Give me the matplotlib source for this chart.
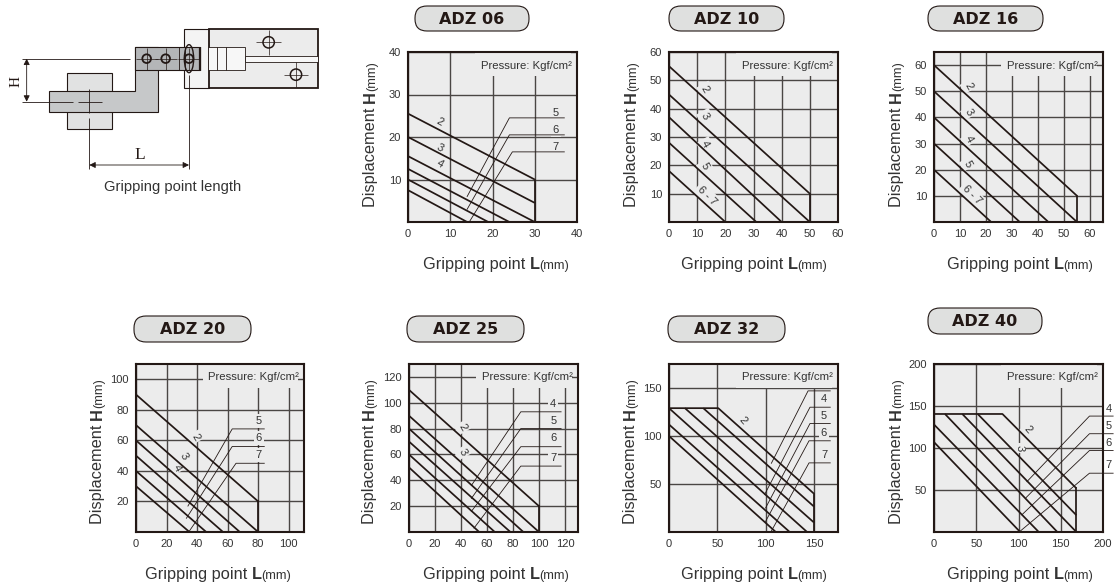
# Gripping point charts ADZ 06 .. ADZ 40

import matplotlib
matplotlib.use('Agg')
import matplotlib.pyplot as plt
from matplotlib.patches import Circle, Ellipse, FancyBboxPatch, Polygon, Rectangle

plt.rcParams['font.family'] = ['Liberation Sans', 'DejaVu Sans']

INK = '#231815'
GRID = '#4a4644'
PANEL_BG = '#ececec'
PILL_BG = '#dfe0df'
TEXT = '#333333'

# (L, H) ends of the curves, a vertical limit and the leader lines
adz06_curves = [[(0, 25.5), (30, 10)], [(0, 20), (30, 4.5)], [(0, 15.5), (30, 0)],
                [(0, 12.5), (24, 0)], [(0, 10), (19, 0)], [(0, 7.5), (14, 0)]]
adz06_limit = [(30, 10), (30, 0)]
adz06_leaders = [[(14, 6), (24, 24.5), (37, 24.5)], [(14, 3), (24, 20.5), (37, 20.5)],
                 [(14.5, 0), (24.7, 16.5), (37, 16.5)]]
adz06_labels = [('2', 7.5, 23.5, -30), ('3', 7.5, 17.5, -30), ('4', 7.5, 13.6, -30),
                ('5', 35, 25.7, 0), ('6', 35, 21.6, 0), ('7', 35, 17.7, 0)]

adz10_curves = [[(0, 55), (50, 10)], [(0, 45), (50, 0)], [(0, 37), (40, 0)],
                [(0, 28), (31, 0)], [(0, 18), (20, 0)]]
adz10_limit = [(50, 10), (50, 0)]
adz10_leaders = []
adz10_labels = [('2', 12.7, 47, -60), ('3', 12.7, 37.5, -60), ('4', 12.7, 27.5, -60),
                ('5', 12.6, 19.7, -60), ('6 - 7', 13.5, 9.3, -45)]

adz16_curves = [[(0, 60), (55, 10)], [(0, 50), (55, 0)], [(0, 40), (44, 0)],
                [(0, 30), (33, 0)], [(0, 20), (22, 0)]]
adz16_limit = [(55, 10), (55, 0)]
adz16_leaders = []
adz16_labels = [('2', 13.2, 52, -60), ('3', 13.4, 42, -60), ('4', 13.3, 31.5, -60),
                ('5', 12.8, 22.3, -60), ('6 - 7', 14.5, 10.4, -45)]

adz20_curves = [[(0, 90), (80, 20)], [(0, 70), (80, 0)], [(0, 60), (68, 0)],
                [(0, 50), (57, 0)], [(0, 40), (46, 0)], [(0, 30), (35, 0)]]
adz20_limit = [(80, 20), (80, 0)]
adz20_leaders = [[(34, 17), (63, 67.5), (84, 67.5)], [(33, 9), (63, 56), (84, 56)],
                 [(34.5, 0), (65.5, 45), (84, 45)]]
adz20_labels = [('2', 38.8, 62, -60), ('3', 31, 49.5, -60), ('4', 26.5, 42, -60),
                ('5', 80.5, 72.7, 0), ('6', 80.5, 61.4, 0), ('7', 80.5, 50.5, 0)]

adz25_curves = [[(0, 110), (100, 20)], [(0, 90), (100, 0)], [(0, 80), (88, 0)],
                [(0, 70), (78, 0)], [(0, 60), (66, 0)], [(0, 50), (54, 0)]]
adz25_limit = [(100, 20), (100, 0)]
adz25_leaders = [[(48, 36), (86, 93), (117, 93)], [(48, 26), (86, 80), (117, 80)],
                 [(48, 16), (86, 66), (117, 66)], [(50, 3), (86, 51), (117, 51)]]
adz25_labels = [('2', 41, 81, -60), ('3', 41, 61.5, -60), ('4', 111, 99, 0),
                ('5', 111, 86, 0), ('6', 111, 72.5, 0), ('7', 111, 57, 0)]

adz32_curves = [[(0, 129), (51, 129), (150, 40)], [(35.5, 129), (150, 26.6)],
                [(16.5, 129), (150, 10)], [(0, 129), (143, 0)],
                [(0, 112), (125, 0)], [(0, 100), (110.6, 0)]]
adz32_limit = [(150, 40), (150, 0)]
adz32_leaders = [[(106, 71.6), (144, 147), (167, 147)], [(99, 39), (146, 130), (167, 130)],
                 [(100, 25), (146, 113), (167, 113)], [(100, 11), (145, 95), (167, 95)],
                 [(106, 1), (145, 72), (167, 72)]]
adz32_labels = [('2', 76, 116, -50), ('4', 160.5, 138.5, 0), ('5', 160.5, 121, 0),
                ('6', 160.5, 103, 0), ('7', 160.5, 80, 0)]

adz40_curves = [[(0, 140.5), (81, 140.5), (168.5, 52)], [(51.7, 140.5), (168.5, 20)],
                [(33.5, 140.5), (168.5, 0)], [(13, 140.5), (146, 0)],
                [(0, 128), (124, 0)], [(0, 107), (102, 0)]]
adz40_limit = [(168.5, 52), (168.5, 0)]
adz40_leaders = [[(110, 60), (184, 138), (212, 138)], [(109, 41), (184, 117), (212, 117)],
                 [(104, 20.5), (184, 97), (212, 97)], [(102, 1), (184, 70), (212, 70)]]
adz40_labels = [('2', 111, 122, -50), ('3', 101, 100, -90), ('4', 206.7, 147, 0),
                ('5', 206.7, 126, 0), ('6', 206.7, 106, 0), ('7', 206.7, 80, 0)]

adz06_ticks = [0, 10, 20, 30, 40]
adz10_ticks = [0, 10, 20, 30, 40, 50, 60]
adz16_ticks = [0, 10, 20, 30, 40, 50, 60]
adz20_ticks = [0, 20, 40, 60, 80, 100]
adz25_ticks = [0, 20, 40, 60, 80, 100, 120]
adz32_ticks = [0, 50, 100, 150]
adz40_ticks = [0, 50, 100, 150, 200]

# name, axis limit, ticks, curves, limit, leaders, labels
PANELS = [
    ('ADZ 06', 40, adz06_ticks, adz06_curves, adz06_limit, adz06_leaders, adz06_labels),
    ('ADZ 10', 60, adz10_ticks, adz10_curves, adz10_limit, adz10_leaders, adz10_labels),
    ('ADZ 16', 65, adz16_ticks, adz16_curves, adz16_limit, adz16_leaders, adz16_labels),
    ('ADZ 20', 110, adz20_ticks, adz20_curves, adz20_limit, adz20_leaders, adz20_labels),
    ('ADZ 25', 130, adz25_ticks, adz25_curves, adz25_limit, adz25_leaders, adz25_labels),
    ('ADZ 32', 175, adz32_ticks, adz32_curves, adz32_limit, adz32_leaders, adz32_labels),
    ('ADZ 40', 200, adz40_ticks, adz40_curves, adz40_limit, adz40_leaders, adz40_labels),
]

# pixel layout: axes box, pill box, x label centre, y label x and centre
LAYOUT = [
    ((408, 52, 577, 222), (415, 6, 529, 31), (496, 264), (370, 134)),
    ((669, 52, 838, 222), (669, 6, 784, 31), (754, 264), (631, 134)),
    ((934, 52, 1103, 222), (928, 6, 1043, 31), (1020, 264), (896, 134)),
    ((136, 364, 304, 532), (134, 316, 251, 342), (218, 574), (97, 451)),
    ((409, 364, 578, 532), (407, 316, 524, 342), (496, 574), (369, 451)),
    ((669, 364, 838, 532), (668, 316, 785, 342), (754, 574), (630, 451)),
    ((934, 364, 1103, 532), (928, 308, 1042, 334), (1020, 574), (896, 451)),
]

W, H = 1114, 586
fig = plt.figure(figsize=(W / 100, H / 100), dpi=100)
renderer = fig.canvas.get_renderer()

# overlay in pixels for pills and the sketch
over = fig.add_axes([0, 0, 1, 1], zorder=0)
over.set_xlim(0, W)
over.set_ylim(H, 0)
over.axis('off')


def text_width(s, **kw):
    t = fig.text(0, 0, s, **kw)
    w = t.get_window_extent(renderer).width
    t.remove()
    return w


def mixed_label(x, y, before, bold, vertical):
    # label with a bold letter and a smaller (mm)
    parts = [(before, 11.8, 'normal'), (bold, 11.8, 'bold'), ('(mm)', 9.2, 'normal')]
    widths = [text_width(s, fontsize=fs, fontweight=fw) for s, fs, fw in parts]
    pos = -sum(widths) / 2
    for (s, fs, fw), w in zip(parts, widths):
        if vertical:
            px, py, rot = x, y - pos, 90
        else:
            px, py, rot = x + pos, y, 0
        fig.text(px / W, 1 - py / H, s, fontsize=fs, fontweight=fw, color=TEXT,
                 rotation=rot, rotation_mode='anchor', ha='left', va='baseline')
        pos += w


for panel, layout in zip(PANELS, LAYOUT):
    name, top, ticks, curves, limit, leaders, labels = panel
    (x0, y0, x1, y1), (px0, py0, px1, py1), xlab, ylab = layout

    ax = fig.add_axes([x0 / W, 1 - y1 / H, (x1 - x0) / W, (y1 - y0) / H], zorder=1)
    ax.set_facecolor(PANEL_BG)
    ax.set_xlim(0, top)
    ax.set_ylim(0, top)
    ax.set_xticks(ticks)
    ax.set_yticks(ticks[1:])
    ax.tick_params(length=0, labelsize=8, labelcolor=TEXT, pad=5)
    ax.grid(True, color=GRID, linewidth=1.0)
    ax.set_axisbelow(True)
    for spine in ax.spines.values():
        spine.set_linewidth(1.5)
        spine.set_color(INK)

    # the pressure note blanks the grid above it
    ax.add_patch(Rectangle((1 - 102 / 169, 1 - 24 / 169), 96 / 169, 24 / 169,
                           transform=ax.transAxes, facecolor=PANEL_BG,
                           edgecolor='none', zorder=1.5))
    ax.text(1 - 5.5 / 169, 1 - 13.5 / 169, 'Pressure: Kgf/cm²', transform=ax.transAxes,
            fontsize=8.2, color=TEXT, ha='right', va='center', zorder=2)

    for curve in curves:
        ax.plot(*zip(*curve), color=INK, linewidth=1.25, zorder=4,
                solid_capstyle='butt', clip_on=False)
    ax.plot(*zip(*limit), color=INK, linewidth=1.25, zorder=4)
    for leader in leaders:
        ax.plot(*zip(*leader), color=INK, linewidth=0.6, zorder=3, clip_on=False)
    for s, lx, ly, rot in labels:
        box = dict(facecolor=PANEL_BG, edgecolor='none', pad=1.5)
        if lx > top:
            box = None
        ax.text(lx, ly, s, fontsize=8, color=TEXT, rotation=rot, ha='center',
                va='center', bbox=box, zorder=2, clip_on=False)

    over.add_patch(FancyBboxPatch((px0, py0), px1 - px0, py1 - py0,
                                  boxstyle='round,pad=0,rounding_size=12',
                                  facecolor=PILL_BG, edgecolor=INK, linewidth=0.8))
    over.text((px0 + px1) / 2, (py0 + py1) / 2 + 0.5, name, family='DejaVu Sans',
              fontweight='bold', fontsize=11.5, color=INK, ha='center', va='center')

    mixed_label(xlab[0], xlab[1] + 5, 'Gripping point ', 'L', False)
    mixed_label(ylab[0] + 5, ylab[1], 'Displacement ', 'H', True)

# sketch of the gripper, coordinates at 3x scale
SK = 3.0


def sk_poly(points, face, edge=INK, lw=0.8, z=2):
    over.add_patch(Polygon([(x / SK, y / SK) for x, y in points], closed=True,
                           facecolor=face, edgecolor=edge, linewidth=lw, zorder=z))


def sk_line(xs, ys, lw=0.6, z=5, color=INK):
    over.plot([x / SK for x in xs], [y / SK for y in ys], color=color, linewidth=lw,
              zorder=z, solid_capstyle='butt')


def sk_hole(x, y, r, lw=1.1):
    over.add_patch(Circle((x / SK, y / SK), r / SK, facecolor='none', edgecolor=INK,
                          linewidth=lw, zorder=6))
    sk_line([x - r - 20, x + r + 20], [y, y], 0.5, 6)
    sk_line([x, x], [y - r - 20, y + r + 20], 0.5, 6)


body_left = [(551, 87), (626, 87), (626, 265), (551, 265)]
body_right = [(626, 87), (955, 87), (955, 265), (626, 265)]
piston = [(625, 142), (735, 142), (735, 210), (625, 210)]
rod = [(735, 167), (955, 167), (955, 185), (735, 185)]
arm = [(405, 142), (473, 142), (473, 337), (148, 337), (148, 272), (405, 272)]
arm_top = [(405, 142), (600, 142), (600, 210), (405, 210)]
block = [(200, 220), (337, 220), (337, 388), (200, 388)]

sk_poly(block, '#e1e2e2', z=1)
sk_poly(body_left, '#f4f4f4', z=2)
sk_poly(body_right, '#ececec', lw=1.3, z=2)
sk_poly(piston, '#f7f7f7', lw=0.6, z=3)
sk_poly(rod, '#f7f7f7', lw=0.6, z=3)
sk_line([652, 652], [142, 210], 0.6, 4)
sk_line([678, 678], [142, 210], 0.6, 4)
sk_poly(arm, '#c6c8c9', z=4)
sk_poly(arm_top, '#b4b6b8', lw=0.8, z=4)
sk_line([537, 537], [142, 210], 0.6, 5)
sk_line([555, 555], [142, 210], 0.6, 5)
sk_line([601, 601], [140, 212], 1.6, 5)
over.add_patch(Ellipse((567 / SK, 176 / SK), 28 / SK, 84 / SK, facecolor='none',
                       edgecolor=INK, linewidth=1.0, zorder=5))
for cx in [440, 497, 567]:
    sk_hole(cx, 176, 13, 1.3)
sk_hole(806, 127, 17)
sk_hole(888, 224, 17)

sk_line([65, 390], [176, 176])
sk_line([65, 220], [305, 305])
sk_line([235, 305], [305, 305])
sk_line([268, 268], [268, 340])
sk_line([268, 268], [355, 508])
sk_line([567, 567], [225, 508])
over.annotate('', xy=(80 / SK, 176 / SK), xytext=(80 / SK, 305 / SK), zorder=6,
              arrowprops=dict(arrowstyle='<|-|>', color=INK, lw=0.6, shrinkA=0, shrinkB=0,
                              mutation_scale=9))
over.annotate('', xy=(268 / SK, 495 / SK), xytext=(567 / SK, 495 / SK), zorder=6,
              arrowprops=dict(arrowstyle='<|-|>', color=INK, lw=0.6, shrinkA=0, shrinkB=0,
                              mutation_scale=9))
over.text(47 / SK, 245 / SK, 'H', family='Liberation Serif', fontsize=11, color=INK,
          rotation=90, ha='center', va='center')
over.text(418 / SK, 465 / SK, 'L', family='Liberation Serif', fontsize=12.5, color=INK,
          ha='center', va='center')
over.text(517 / SK, 560 / SK, 'Gripping point length', fontsize=10.6, color=TEXT,
          ha='center', va='center')

fig.savefig('out.png', dpi=100)
